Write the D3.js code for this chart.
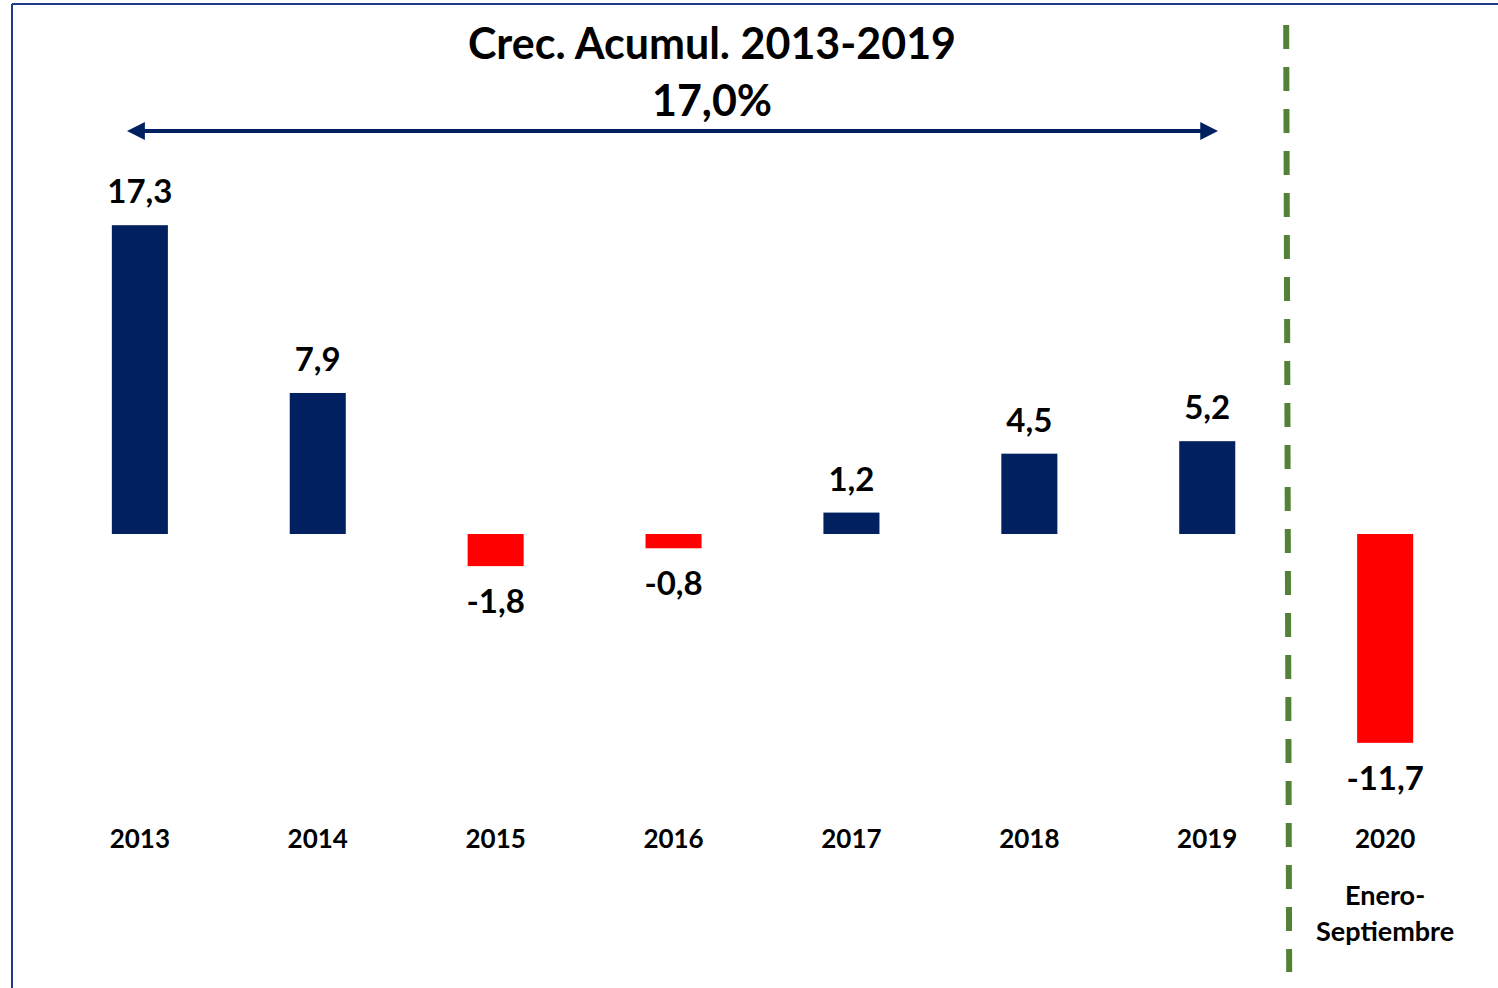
<!DOCTYPE html>
<html>
<head>
<meta charset="utf-8">
<script src="https://cdn.jsdelivr.net/npm/d3@7"></script>
<style>
  html, body { margin: 0; padding: 0; background: #fff; }
  svg { display: block; }
  text { font-family: Lato, "Open Sans", sans-serif; font-weight: bold; fill: #000; }
</style>
</head>
<body>
<div id="chart"></div>
<script>
var years = ["2013", "2014", "2015", "2016", "2017", "2018", "2019", "2020"];
var values = [17.3, 7.9, -1.8, -0.8, 1.2, 4.5, 5.2, -11.7];
var valueLabels = ["17,3", "7,9", "-1,8", "-0,8", "1,2", "4,5", "5,2", "-11,7"];
var titleLines = ["Crec. Acumul. 2013-2019", "17,0%"];
var subLabel = ["Enero-", "Septiembre"];

var width = 1498, height = 988;
var navy = "#002060", red = "#ff0000", green = "#548235";

var svg = d3.select("#chart").append("svg")
    .attr("width", width)
    .attr("height", height);

// frame (left + top only visible)
svg.append("line")
    .attr("x1", 12).attr("y1", 4).attr("x2", width).attr("y2", 4)
    .attr("stroke", "#1f3a87").attr("stroke-width", 2);
svg.append("line")
    .attr("x1", 12).attr("y1", 4).attr("x2", 12).attr("y2", height)
    .attr("stroke", "#1f3a87").attr("stroke-width", 2);

var x = d3.scaleBand()
    .domain(years)
    .range([51, 1474])
    .paddingInner(0.685)
    .paddingOuter(0.342);

// 17.85 px per unit, zero at y = 534
var y = d3.scaleLinear()
    .domain([-11.7, 17.3])
    .range([534 + 11.7 * 17.85, 534 - 17.3 * 17.85]);

var data = years.map(function(d, i) {
    return {year: d, value: values[i], label: valueLabels[i]};
});

svg.selectAll("rect.bar")
    .data(data)
  .enter().append("rect")
    .attr("class", "bar")
    .attr("x", function(d) { return x(d.year); })
    .attr("width", x.bandwidth())
    .attr("y", function(d) { return y(Math.max(0, d.value)); })
    .attr("height", function(d) { return Math.abs(y(d.value) - y(0)); })
    .attr("fill", function(d) { return d.value < 0 ? red : navy; });

svg.selectAll("text.val")
    .data(data)
  .enter().append("text")
    .attr("class", "val")
    .attr("x", function(d) { return x(d.year) + x.bandwidth() / 2; })
    .attr("y", function(d) { return d.value < 0 ? y(d.value) + 47 : y(d.value) - 22; })
    .attr("text-anchor", "middle")
    .style("font-size", "33px")
    .text(function(d) { return d.label; });

// category labels
svg.selectAll("text.year")
    .data(years)
  .enter().append("text")
    .attr("class", "year")
    .attr("x", function(d) { return x(d) + x.bandwidth() / 2; })
    .attr("y", 848)
    .attr("text-anchor", "middle")
    .style("font-size", "26px")
    .text(function(d) { return d; });

svg.selectAll("text.sub")
    .data(subLabel)
  .enter().append("text")
    .attr("class", "sub")
    .attr("x", x("2020") + x.bandwidth() / 2)
    .attr("y", function(d, i) { return 905 + i * 36; })
    .attr("text-anchor", "middle")
    .style("font-size", "27px")
    .text(function(d) { return d; });

// dashed divider
var divX = (x("2019") + x.bandwidth() + x("2020")) / 2 - 10;
svg.append("line")
    .attr("x1", divX).attr("x2", divX + 3)
    .attr("y1", 25).attr("y2", 972)
    .attr("stroke", green)
    .attr("stroke-width", 6)
    .attr("stroke-dasharray", "24 18");

// double arrow
var defs = svg.append("defs");
["start", "end"].forEach(function(k) {
    defs.append("marker")
        .attr("id", "arr-" + k)
        .attr("viewBox", "0 0 10 10")
        .attr("refX", 5).attr("refY", 5)
        .attr("markerWidth", 4.5).attr("markerHeight", 4.5)
        .attr("markerUnits", "strokeWidth")
        .attr("orient", k === "start" ? "auto-start-reverse" : "auto")
      .append("path")
        .attr("d", "M0,0 L10,5 L0,10 Z")
        .attr("fill", navy);
});
var ax0 = x("2013") + x.bandwidth() / 2 - 12;
var ax1 = x("2019") + x.bandwidth() / 2 + 10;
svg.append("line")
    .attr("x1", ax0 + 8).attr("x2", ax1 - 8)
    .attr("y1", 131).attr("y2", 131)
    .attr("stroke", navy)
    .attr("stroke-width", 4)
    .attr("marker-start", "url(#arr-start)")
    .attr("marker-end", "url(#arr-end)");

svg.selectAll("text.title")
    .data(titleLines)
  .enter().append("text")
    .attr("class", "title")
    .attr("x", 712)
    .attr("y", function(d, i) { return 59 + i * 57; })
    .attr("text-anchor", "middle")
    .style("font-size", "43px")
    .text(function(d) { return d; });
</script>
</body>
</html>
